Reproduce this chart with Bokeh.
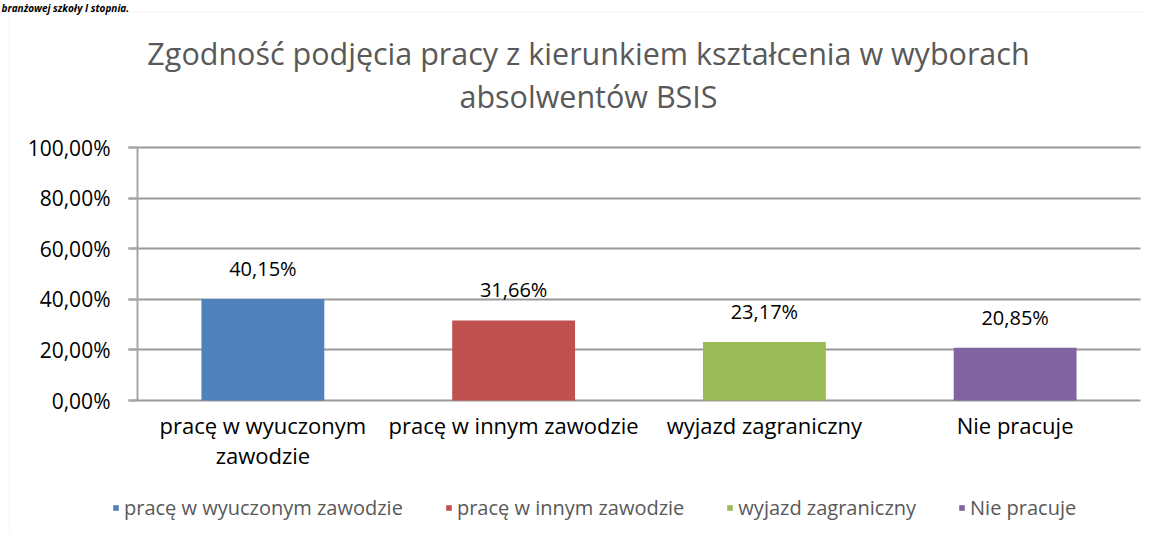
from bokeh.plotting import figure
from bokeh.models import (ColumnDataSource, FixedTicker, Range1d, Legend, LegendItem,
                          Label, BoxAnnotation)
from bokeh.core.properties import value
from bokeh.embed import file_html
from bokeh.resources import INLINE

# ---- data ----
categories = ["pracę w wyuczonym zawodzie", "pracę w innym zawodzie", "wyjazd zagraniczny", "Nie pracuje"]
axis_labels = ["pracę w wyuczonym\nzawodzie", "pracę w innym zawodzie", "wyjazd zagraniczny", "Nie pracuje"]
values = [40.15, 31.66, 23.17, 20.85]
value_labels = ["40,15%", "31,66%", "23,17%", "20,85%"]
colors = ["#4f81bd", "#c0504d", "#9bbb59", "#8064a2"]
y_ticks = [0, 20, 40, 60, 80, 100]
y_tick_labels = ["0,00%", "20,00%", "40,00%", "60,00%", "80,00%", "100,00%"]
title_lines = ["Zgodność podjęcia pracy z kierunkiem kształcenia w wyborach", "absolwentów BSIS"]
heading_cut = "branżowej szkoły I stopnia."

FONT = "Open Sans"

# ---- layout (pixels) ----
W, H = 1146, 532
PLOT_LEFT, PLOT_RIGHT = 137, 1140
PLOT_TOP, PLOT_BOTTOM = 147, 400
YMAX = y_ticks[-1]
cat_w = (PLOT_RIGHT - PLOT_LEFT) / len(categories)
px_per_y = (PLOT_BOTTOM - PLOT_TOP) / YMAX
x_start = -PLOT_LEFT / cat_w
x_end = (W - PLOT_LEFT) / cat_w
y_end = PLOT_BOTTOM / px_per_y
y_start = -(H - PLOT_BOTTOM) / px_per_y


def dx(px):
    return x_start + px / cat_w


def dy(py):
    return y_end - py / px_per_y


positions = [i + 0.5 for i in range(len(categories))]

source = ColumnDataSource(dict(x=positions, val=values, lab=value_labels, color=colors))

p = figure(width=W, height=H, output_backend="svg", toolbar_location=None,
           x_range=Range1d(x_start, x_end), y_range=Range1d(y_start, y_end),
           min_border=0)
p.outline_line_color = None
p.border_fill_color = "white"
p.background_fill_color = "white"

# outer chart border
p.add_layout(BoxAnnotation(left=dx(8.5), right=dx(1300), top=dy(11.5), bottom=dy(700),
                           fill_alpha=0, line_color="#d9d9d9", line_width=1))

# bars
r = p.vbar(x="x", top="val", width=0.49, bottom=0, source=source,
           fill_color="color", line_color=None)

p.text(x="x", y="val", text="lab", source=source, text_align="center",
       text_baseline="bottom", y_offset=-17, text_font=value(FONT),
       text_font_size="20px", text_color="#000000")

# y axis
yax = p.yaxis[0]
yax.fixed_location = 0
yax.bounds = (y_ticks[0], y_ticks[-1])
yax.ticker = FixedTicker(ticks=y_ticks)
yax.major_label_overrides = {t: l for t, l in zip(y_ticks, y_tick_labels)}
yax.axis_line_color = "#a6a6a6"
yax.axis_line_width = 2
yax.major_tick_line_color = "#a6a6a6"
yax.major_tick_line_width = 2
yax.major_tick_out = 9
yax.major_tick_in = 0
yax.minor_tick_line_color = None
yax.major_label_standoff = 18
yax.major_label_text_font = FONT
yax.major_label_text_font_size = "21px"
yax.major_label_text_color = "#000000"

# x axis
xax = p.xaxis[0]
xax.fixed_location = 0
xax.ticker = FixedTicker(ticks=positions)
xax.major_label_overrides = {pos: l for pos, l in zip(positions, axis_labels)}
xax.axis_line_color = None
xax.major_tick_line_color = None
xax.minor_tick_line_color = None
xax.major_label_standoff = 3
xax.major_label_text_font = FONT
xax.major_label_text_font_size = "22px"
xax.major_label_text_line_height = 1.0
xax.major_label_text_color = "#000000"

p.xgrid.grid_line_color = None
p.ygrid.ticker = FixedTicker(ticks=y_ticks)
p.ygrid.cross_bounds = (dx(128), dx(PLOT_RIGHT))
p.ygrid.grid_line_color = "#999999"
p.ygrid.grid_line_width = 2

# title (two lines)
for line, base in zip(title_lines, [52, 95]):
    p.add_layout(Label(x=dx(588), y=dy(base), text=line, text_align="center",
                       text_baseline="alphabetic", text_font=FONT, text_font_size="30.5px",
                       text_color="#595959"))

# heading of the page above the chart
p.add_layout(Label(x=dx(1), y=dy(0), text=heading_cut, text_align="left",
                   text_baseline="top", text_font=FONT, text_font_size="10px",
                   text_font_style="bold italic", text_color="#000000"))

# legend
items = [LegendItem(label=c, renderers=[r], index=i) for i, c in enumerate(categories)]
lg = Legend(items=items, orientation="horizontal", location=(112, 11))
lg.padding = 0
lg.margin = 0
lg.glyph_width = 7
lg.glyph_height = 7
lg.label_standoff = 5
lg.spacing = 42
lg.label_text_font = FONT
lg.label_text_font_size = "20px"
lg.label_text_color = "#595959"
lg.border_line_color = None
lg.background_fill_alpha = 0
p.add_layout(lg, "center")

open("out.html", "w").write(file_html(p, INLINE))
